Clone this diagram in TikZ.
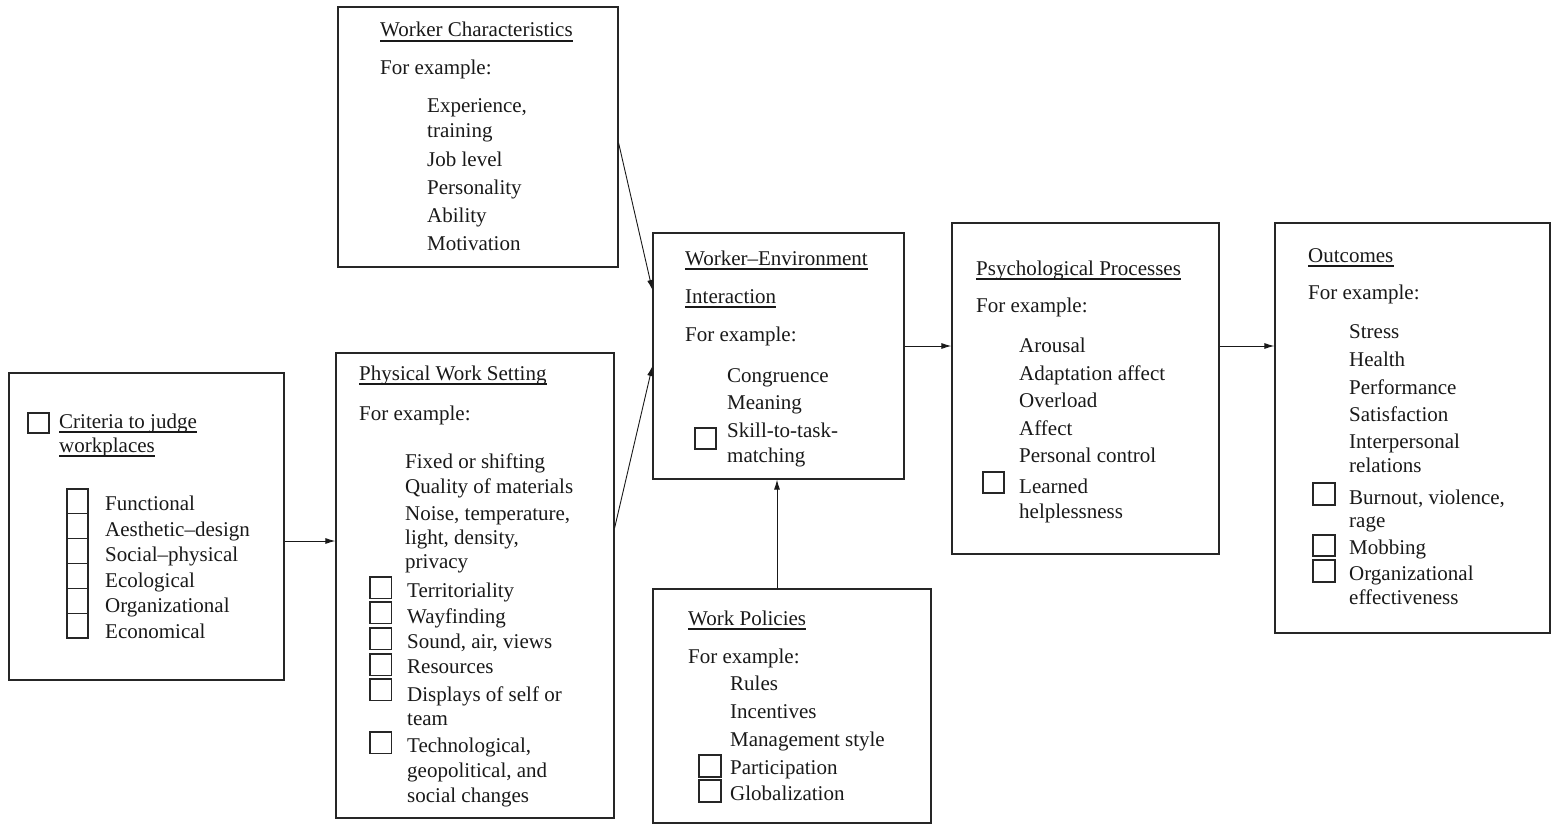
\documentclass[tikz,border=0pt]{standalone}
\usepackage{fontspec}
\setmainfont{Liberation Serif}
\usetikzlibrary{arrows.meta}
\begin{document}
\begin{tikzpicture}[x=1pt,y=-1pt,
  box/.style={draw=black!85,line width=1.2pt,rectangle,inner sep=0pt},
  txt/.style={anchor=base west,inner sep=0pt,font=\fontsize{21}{25}\selectfont,text=black!90},
  ul/.style={line width=1.5pt,black!90},
  cb/.style={draw=black!85,line width=1.1pt},
  arr/.style={line width=0.9pt,black!90,-{Latex[length=10pt,width=6pt]}}]
\useasboundingbox (0,0) rectangle (1557,824);
% boxes
\node[box,minimum width=275pt,minimum height=307pt] (crit) at (146.5,526.5) {};
\node[box,minimum width=278pt,minimum height=465pt] (phys) at (475,585.5) {};
\node[box,minimum width=280pt,minimum height=260pt] (wc) at (478,137) {};
\node[box,minimum width=251pt,minimum height=246pt] (we) at (778.5,356) {};
\node[box,minimum width=278pt,minimum height=234pt] (wp) at (792,706) {};
\node[box,minimum width=267pt,minimum height=331pt] (psy) at (1085.5,388.5) {};
\node[box,minimum width=275pt,minimum height=410pt] (out) at (1412.5,428) {};
% criteria
\node[txt] (crT1) at (59,428) {Criteria to judge};
\node[txt] (crT2) at (59,452) {workplaces};
\draw[ul] ([yshift=-4pt]crT1.base west) -- ([yshift=-4pt]crT1.base east);
\draw[ul] ([yshift=-4pt]crT2.base west) -- ([yshift=-4pt]crT2.base east);
\draw[cb] (28,413) rectangle (49,433);
\foreach \y/\t [count=\i] in {510/Functional,536/Aesthetic–design,561/Social–physical,587/Ecological,612/Organizational,638/Economical}
  \node[txt] (cr\i) at (105,\y) {\t};
\foreach \i in {0,...,5}
  \draw[cb] (67,{489+24.83*\i}) rectangle (88,{489+24.83*(\i+1)});
% physical work setting
\node[txt] (phT) at (359,380) {Physical Work Setting};
\draw[ul] ([yshift=-4pt]phT.base west) -- ([yshift=-4pt]phT.base east);
\node[txt] (phF) at (359,420) {For example:};
\foreach \y/\t [count=\i] in {468/Fixed or shifting,493/Quality of materials,520/{Noise, temperature,},544/{light, density,},568/privacy}
  \node[txt] (pha\i) at (405,\y) {\t};
\foreach \y/\t [count=\i] in {597/Territoriality,623/Wayfinding,648/{Sound, air, views},673/Resources,701/Displays of self or,725/team,752/{Technological,},777/{geopolitical, and},802/social changes}
  \node[txt] (phb\i) at (407,\y) {\t};
\foreach \y in {577,602,628,654,679,732}
  \draw[cb] (370,\y) rectangle +(21.5,21.5);
% worker characteristics
\node[txt] (wcT) at (380,37) {Worker Characteristics};
\draw[ul] ([yshift=-4pt]wcT.base west) -- ([yshift=-4pt]wcT.base east);
\node[txt] (wcF) at (380,75) {For example:};
\foreach \y/\t [count=\i] in {113/{Experience,},137/training,166/Job level,194/Personality,222/Ability,250/Motivation}
  \node[txt] (wc\i) at (427,\y) {\t};
% worker-environment interaction
\node[txt] (weT1) at (685,265) {Worker–Environment};
\node[txt] (weT2) at (685,303) {Interaction};
\draw[ul] ([yshift=-4pt]weT1.base west) -- ([yshift=-4pt]weT1.base east);
\draw[ul] ([yshift=-4pt]weT2.base west) -- ([yshift=-4pt]weT2.base east);
\node[txt] (weF) at (685,341) {For example:};
\foreach \y/\t [count=\i] in {382/Congruence,409/Meaning,437/Skill-to-task-,462/matching}
  \node[txt] (we\i) at (727,\y) {\t};
\draw[cb] (695,428) rectangle (716,449);
% work policies
\node[txt] (wpT) at (688,625) {Work Policies};
\draw[ul] ([yshift=-4pt]wpT.base west) -- ([yshift=-4pt]wpT.base east);
\node[txt] (wpF) at (688,663) {For example:};
\foreach \y/\t [count=\i] in {690/Rules,718/Incentives,746/Management style,774/Participation,800/Globalization}
  \node[txt] (wp\i) at (730,\y) {\t};
\draw[cb] (699,755) rectangle (721,777);
\draw[cb] (699,780) rectangle (721,802);
% psychological processes
\node[txt] (psT) at (976,275) {Psychological Processes};
\draw[ul] ([yshift=-4pt]psT.base west) -- ([yshift=-4pt]psT.base east);
\node[txt] (psF) at (976,312) {For example:};
\foreach \y/\t [count=\i] in {352/Arousal,380/Adaptation affect,407/Overload,435/Affect,462/Personal control,493/Learned,518/helplessness}
  \node[txt] (ps\i) at (1019,\y) {\t};
\draw[cb] (983,472) rectangle (1004,493);
% outcomes
\node[txt] (ouT) at (1308,262) {Outcomes};
\draw[ul] ([yshift=-4pt]ouT.base west) -- ([yshift=-4pt]ouT.base east);
\node[txt] (ouF) at (1308,299) {For example:};
\foreach \y/\t [count=\i] in {338/Stress,366/Health,394/Performance,421/Satisfaction,448/Interpersonal,472/relations,504/{Burnout, violence,},527/rage,554/Mobbing,580/Organizational,604/effectiveness}
  \node[txt] (ou\i) at (1349,\y) {\t};
\draw[cb] (1313,483) rectangle (1335,505);
\draw[cb] (1313,535) rectangle (1335,556);
\draw[cb] (1313,560) rectangle (1335,582);
% connector levels
\coordinate (h541) at (0,541);
\coordinate (h143) at (0,143);
\coordinate (h290) at (0,290);
\coordinate (h528) at (0,528);
\coordinate (h366) at (0,366);
\coordinate (h346) at (0,346);
\coordinate (v777) at (777,0);
% connectors
\draw[arr] (crit.east |- h541) -- (phys.west |- h541);
\draw[arr] (wc.east |- h143) -- (we.west |- h290);
\draw[arr] (phys.east |- h528) -- (we.west |- h366);
\draw[arr] (wp.north -| v777) -- (we.south -| v777);
\draw[arr] (we.east |- h346) -- (psy.west |- h346);
\draw[arr] (psy.east |- h346) -- (out.west |- h346);
\end{tikzpicture}
\end{document}
